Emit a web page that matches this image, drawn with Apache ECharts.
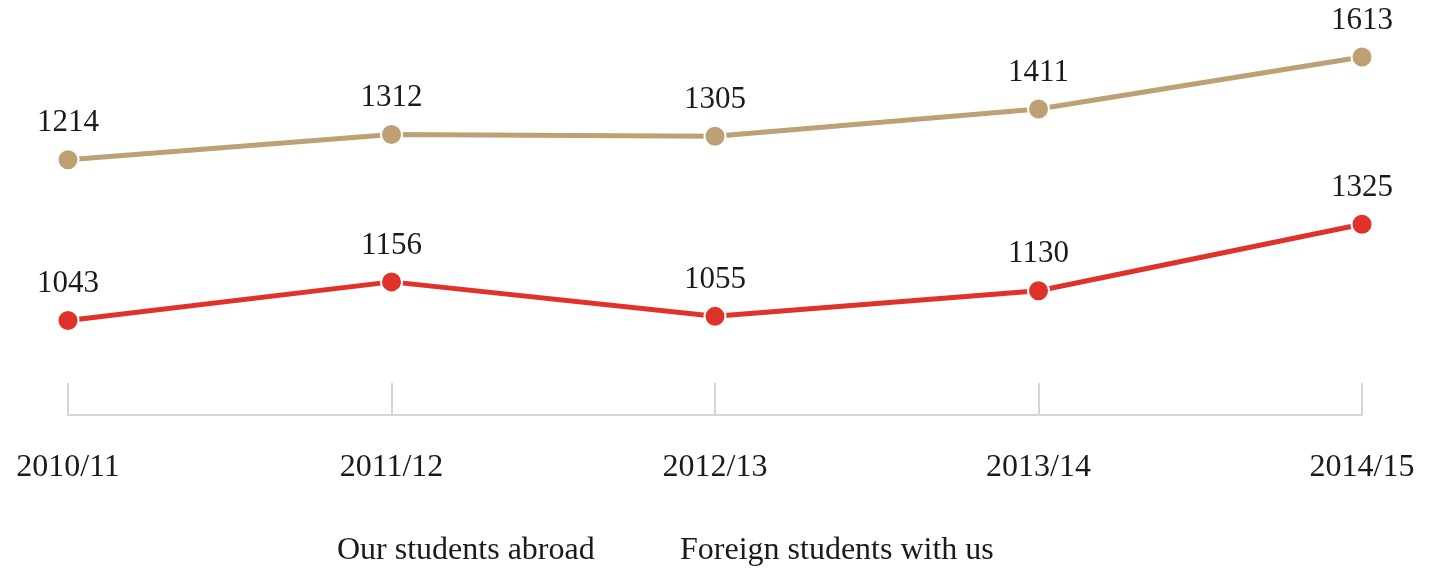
<!DOCTYPE html>
<html>
<head>
<meta charset="utf-8">
<script src="https://cdn.jsdelivr.net/npm/echarts@6/dist/echarts.min.js"></script>
<style>
html,body{margin:0;padding:0;background:#fff;}
#chart{width:1441px;height:569px;}
</style>
</head>
<body>
<div id="chart"></div>
<script>
const categories = ['2010/11', '2011/12', '2012/13', '2013/14', '2014/15'];
const seriesNames = ['Our students abroad', 'Foreign students with us'];
const tanValues = [1214, 1312, 1305, 1411, 1613];
const redValues = [1043, 1156, 1055, 1130, 1325];

const FONT = '"Liberation Serif", "DejaVu Serif", serif';
const TAN = '#bda073';
const RED = '#e0312b';

const chart = echarts.init(document.getElementById('chart'));

function lineSeries(name, data, color, yIdx) {
  return {
    name: name,
    type: 'line',
    yAxisIndex: yIdx,
    data: data,
    symbol: 'circle',
    symbolSize: 21,
    showAllSymbol: true,
    lineStyle: { color: color, width: 5 },
    itemStyle: { color: color, borderColor: '#fff', borderWidth: 2 },
    label: {
      show: true,
      position: 'top',
      distance: 8,
      color: '#1a1a1a',
      fontFamily: FONT,
      fontSize: 31,
      lineHeight: 34
    },
    emphasis: { disabled: true },
    animation: false
  };
}

chart.setOption({
  backgroundColor: '#fff',
  animation: false,
  grid: { left: 68, right: 79, top: 2, bottom: 154, containLabel: false },
  legend: [
    {
      data: [seriesNames[0]],
      left: 327, top: 530,
      icon: 'none', itemWidth: 0, itemHeight: 0,
      selectedMode: false,
      textStyle: { fontFamily: FONT, fontSize: 32, color: '#1a1a1a', padding: 0 }
    },
    {
      data: [seriesNames[1]],
      left: 670, top: 530,
      icon: 'none', itemWidth: 0, itemHeight: 0,
      selectedMode: false,
      textStyle: { fontFamily: FONT, fontSize: 32, color: '#1a1a1a', padding: 0 }
    }
  ],
  xAxis: {
    type: 'category',
    data: categories,
    boundaryGap: false,
    axisLine: { show: true, lineStyle: { color: '#d6d6d6', width: 2 } },
    axisTick: { show: true, inside: true, length: 32, lineStyle: { color: '#d6d6d6', width: 2 } },
    axisLabel: { margin: 37, color: '#1a1a1a', fontFamily: FONT, fontSize: 32 },
    splitLine: { show: false }
  },
  yAxis: [
    { type: 'value', min: 224, max: 1826, show: false, splitLine: { show: false } },
    { type: 'value', min: 766, max: 1976, show: false, splitLine: { show: false } }
  ],
  series: [
    lineSeries(seriesNames[0], tanValues, TAN, 0),
    lineSeries(seriesNames[1], redValues, RED, 1)
  ]
});
</script>
</body>
</html>
